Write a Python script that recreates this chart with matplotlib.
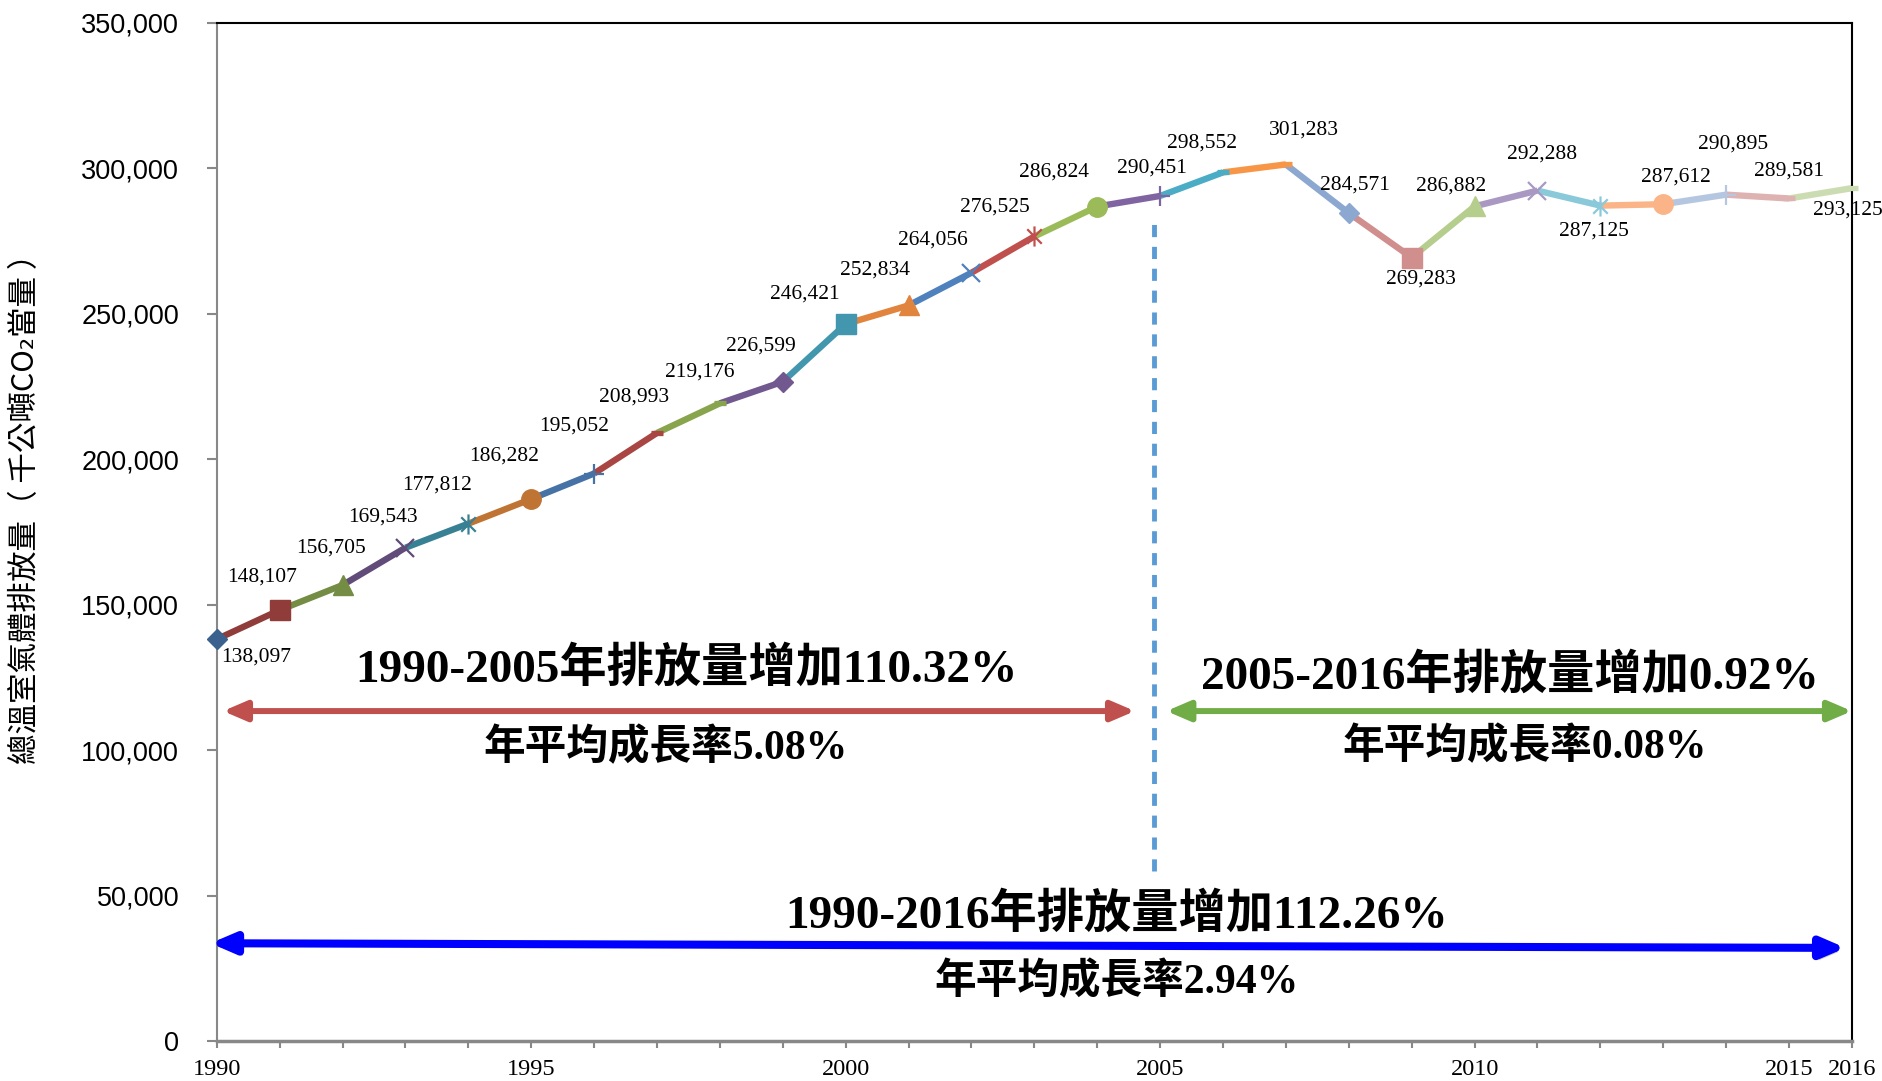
import matplotlib
matplotlib.use("Agg")
import matplotlib.pyplot as plt
import matplotlib.patheffects as pe
from matplotlib.path import Path
from matplotlib.patches import FancyArrowPatch, ArrowStyle

# data
years = list(range(1990, 2017))
emissions = [138097, 148107, 156705, 169543, 177812, 186282, 195052, 208993,
             219176, 226599, 246421, 252834, 264056, 276525, 286824, 290451,
             298552, 301283, 284571, 269283, 286882, 292288, 287125, 287612,
             290895, 289581, 293125]
shown_years = [1990, 1995, 2000, 2005, 2010, 2015, 2016]
y_ticks = list(range(0, 350001, 50000))

ylabel = "總溫室氣體排放量（ 千公噸CO₂當量 ）"
notes = [
    ("1990-2005年排放量增加110.32%", "年平均成長率5.08%"),
    ("2005-2016年排放量增加0.92%", "年平均成長率0.08%"),
    ("1990-2016年排放量增加112.26%", "年平均成長率2.94%"),
]

# excel-like "vary colors by point"
colors = ["#3B618E", "#903C3A", "#748C43", "#604B79", "#388194", "#C07434",
          "#4672A6", "#A94644", "#88A54E", "#71588F", "#4297AE", "#E0843E",
          "#4F81BD", "#C0504D", "#9BBB59", "#8064A2", "#4BACC6", "#F79646",
          "#8DA8D0", "#D08E8C", "#B5CD8D", "#A898C2", "#8AC9DA", "#FAB487",
          "#B5C6E0", "#DDB2B1", "#CCDCB2"]

asterisk = Path([(0, -1), (0, 1), (-0.72, -0.72), (0.72, 0.72), (-0.72, 0.72), (0.72, -0.72)],
                [Path.MOVETO, Path.LINETO] * 3)
marker_cycle = [("D", 10.5, 1), ("s", 14, 1), ("^", 14, 1), ("x", 12.5, 1.6), (asterisk, 14.5, 1.6),
                ("o", 14, 1), ("+", 14.5, 1.6), ("_", 8.5, 3.8), ("_", 8.5, 3.8)]

# label offsets in pixels from each point (right, down)
label_offsets = [(39, 18), (-18, -33), (-11, -37), (-22, -31), (-31, -39), (-27, -43),
                 (-20, -47), (-23, -36), (-20, -31), (-22, -36), (-41, -30), (-34, -35),
                 (-39, -33), (-39, -29), (-43, -34), (-8, -28), (-21, -29), (18, -34),
                 (6, -28), (9, 22), (-24, -20), (5, -37), (-6, 25), (13, -27),
                 (7, -51), (0, -27), (-4, 22)]

fig = plt.figure(figsize=(18.83, 10.81), dpi=100)
ax = fig.add_axes([0.1151, 0.0370, 0.8684, 0.9420])

for i in range(1, len(years)):
    ax.plot(years[i - 1:i + 1], emissions[i - 1:i + 1], color=colors[i], lw=4.6,
            solid_capstyle="butt", zorder=2)

for i, (yr, v) in enumerate(zip(years, emissions)):
    m, ms, mew = marker_cycle[i % len(marker_cycle)]
    ax.plot([yr], [v], marker=m, ms=ms, mew=mew, color=colors[i], mec=colors[i],
            ls="none", zorder=3, clip_on=False)
    dx, dy = label_offsets[i]
    ax.annotate(f"{v:,}", (yr, v), xytext=(dx, -dy), textcoords="offset pixels",
                ha="center", va="center", fontsize=15.5, family="Liberation Serif",
                annotation_clip=False, zorder=4)

ax.set_xlim(1990, 2016)
ax.set_ylim(0, 350000)
ax.set_yticks(y_ticks)
ax.set_yticklabels([f"{t:,}" for t in y_ticks], family="Liberation Sans", fontsize=19.5)
ax.set_xticks(years)
ax.set_xticklabels([str(y) if y in shown_years else "" for y in years],
                   family="Liberation Serif", fontsize=17.5)
ax.tick_params(axis="y", length=7, width=1.5, color="#888888", pad=20)
ax.tick_params(axis="x", length=5, width=1.5, color="#888888", pad=8)
ax.spines["left"].set_color("#888888")
ax.spines["left"].set_linewidth(1.5)
ax.spines["bottom"].set_color("#888888")
ax.spines["bottom"].set_linewidth(2.5)
ax.spines["top"].set_linewidth(1.5)
ax.spines["right"].set_linewidth(1.5)

fig.text(26 / 1883, 1 - 501 / 1081, ylabel, rotation=90, ha="center", va="center",
         fontsize=22, family=["Noto Sans CJK TC", "DejaVu Sans"])

# split line at 2005
ax.plot([2004.9, 2004.9], [58400, 283900], color="#5B9BD5", lw=3.5,
        ls=(0, (2.5, 2)), zorder=1)

# period arrows
def arrow(x0, y0, x1, y1, color, lw, shadow=False):
    style = ArrowStyle("<|-|>", head_length=14, head_width=6)
    a = FancyArrowPatch((x0, y0), (x1, y1), arrowstyle=style, mutation_scale=1,
                        color=color, lw=lw, shrinkA=0, shrinkB=0, zorder=5, clip_on=False)
    if shadow:
        a.set_path_effects([pe.SimplePatchShadow(offset=(2, -3), shadow_rgbFace="gray", alpha=0.4),
                            pe.Normal()])
    ax.add_patch(a)

arrow(1990.1, 113400, 2004.6, 113400, "#C0504D", 4.3)
arrow(2005.1, 113400, 2016.0, 113400, "#70AD47", 4.3)
arrow(1989.9, 33600, 2015.9, 32000, "#0000FF", 5.8, shadow=True)

bold_fam = ["Liberation Serif", "Noto Sans CJK TC"]
pos = [((1997.46, 127900), (1997.13, 100700)),
       ((2010.56, 125400), (2010.80, 101000)),
       ((2004.30, 43300), (2004.30, 20300))]
for (title, sub), (p1, p2) in zip(notes, pos):
    ax.text(*p1, title, ha="center", va="center", fontsize=34, weight="bold", family=bold_fam, zorder=6)
    ax.text(*p2, sub, ha="center", va="center", fontsize=30, weight="bold", family=bold_fam, zorder=6)

fig.savefig("out.png", dpi=100)
